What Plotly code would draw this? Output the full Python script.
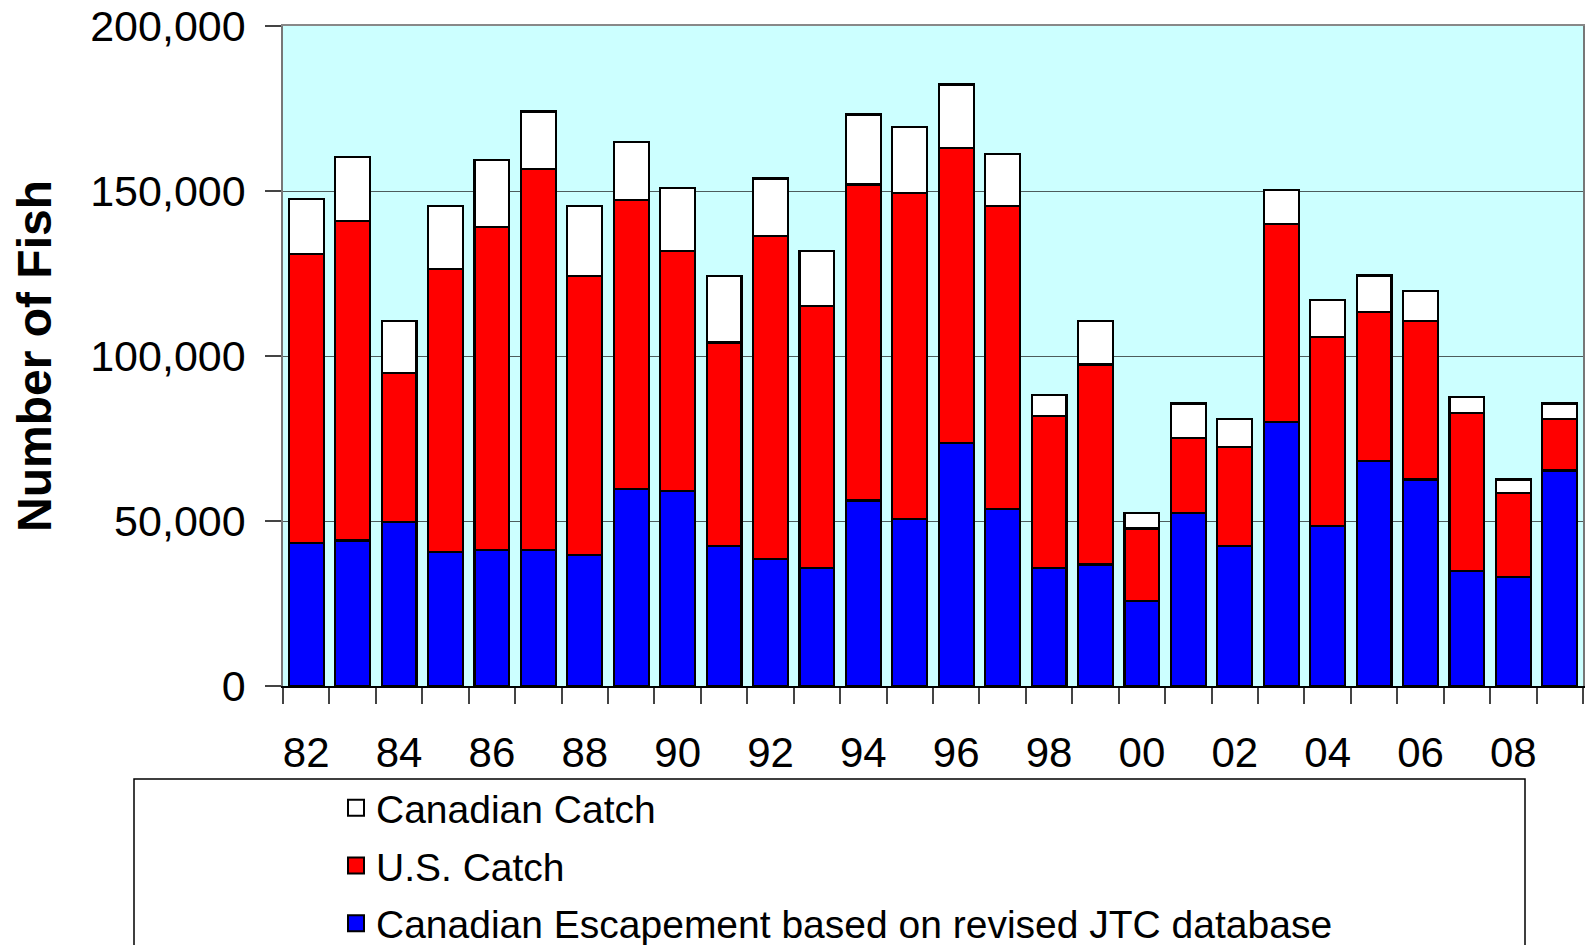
import plotly.graph_objects as go

years = list(range(1982, 2010))
tick_years = list(range(1982, 2010, 2))
tick_labels = ["82", "84", "86", "88", "90", "92", "94", "96", "98", "00", "02", "04", "06", "08"]

escapement = [43300, 44100, 49700, 40500, 41300, 41300, 39600, 59800, 59000, 42400,
              38600, 35800, 56200, 50700, 73700, 53600, 35800, 36800, 25700, 52500,
              42400, 80000, 48600, 68100, 62600, 34900, 33000, 65300]
us_catch = [87500, 96900, 45200, 85800, 97900, 115300, 84700, 87500, 72800, 61700,
            97700, 79400, 95800, 98600, 89400, 91900, 46100, 60600, 22000, 22700,
            30100, 60100, 57200, 45200, 47900, 47800, 25500, 15500]
canadian_catch = [16700, 19400, 15700, 19200, 20100, 17500, 21200, 17500, 19200, 20200,
                  17500, 16600, 21200, 20200, 19200, 15700, 6400, 13200, 4800, 10400,
                  8500, 10100, 11100, 11100, 9300, 4900, 4100, 4800]

series = [
    ("Canadian Escapement based on revised JTC database", escapement, "#0000FF"),
    ("U.S. Catch", us_catch, "#FF0000"),
    ("Canadian Catch", canadian_catch, "#FFFFFF"),
]

FONT = "Arial, Liberation Sans, sans-serif"

# plot area in pixels
L, R, T, B = 283, 1583, 26, 686
W, H = R - L, B - T

fig = go.Figure()
for name, vals, color in series:
    fig.add_trace(go.Bar(
        x=years, y=vals, name=name, width=0.75,
        marker=dict(color=color, line=dict(color="black", width=2.2)),
        showlegend=False,
    ))
# legend proxies (larger square symbols), listed top to bottom
for i, (name, vals, color) in enumerate(reversed(series)):
    fig.add_trace(go.Scatter(
        x=[None], y=[None], name=name, mode="markers", legendgroup="g%d" % i,
        marker=dict(symbol="square", size=16, color=color, line=dict(color="black", width=2)),
        showlegend=True,
    ))

fig.add_shape(type="rect", xref="paper", yref="paper",
              x0=(134 - L) / W, x1=(1525 - L) / W,
              y0=(B - 779) / H, y1=(B - 960) / H,
              line=dict(color="black", width=1.5), fillcolor="white", layer="below")

fig.update_layout(
    width=1586, height=945,
    margin=dict(l=L, r=1586 - R, t=T, b=945 - B, autoexpand=False),
    barmode="stack",
    plot_bgcolor="#CCFFFF",
    paper_bgcolor="white",
    font=dict(family=FONT, size=42, color="black"),
    showlegend=True,
    legend=dict(
        traceorder="grouped",
        tracegroupgap=4,
        x=(336 - L) / W, xanchor="left",
        y=(B - 776) / H, yanchor="top",
        font=dict(family=FONT, size=39, color="black"),
        bgcolor="rgba(0,0,0,0)", borderwidth=0,
        itemsizing="trace",
    ),
    xaxis=dict(
        range=[1981.5, 2009.5], automargin=False,
        tickmode="array", tickvals=tick_years, ticktext=tick_labels,
        ticks="", ticklabelstandoff=29,
        showgrid=False, zeroline=False,
        showline=True, linecolor="black", linewidth=2, mirror=False,
        minor=dict(tickmode="linear", tick0=1981.5, dtick=1, ticks="outside",
                   ticklen=16, tickwidth=1.5, tickcolor="#444", showgrid=False),
        tickfont=dict(size=42),
    ),
    xaxis2=dict(overlaying="x", side="top", range=[1981.5, 2009.5], showticklabels=False,
                automargin=False,
                ticks="", showgrid=False, showline=True, linecolor="#888", linewidth=2.3),
    yaxis=dict(
        range=[0, 200000], automargin=False,
        tickmode="array", tickvals=[0, 50000, 100000, 150000, 200000],
        ticktext=["0", "50,000", "100,000", "150,000", "200,000"],
        ticks="outside", ticklen=16, tickwidth=1.5, tickcolor="#444",
        ticklabelstandoff=11,
        showgrid=True, gridcolor="#4d5c5c", gridwidth=1.2,
        zeroline=False, showline=True, linecolor="#777", linewidth=1.5, mirror=True,
        title=dict(text="<b>Number of Fish</b>", font=dict(size=48), standoff=23),
        tickfont=dict(size=43),
    ),
)

# dummy trace to activate top border axis
fig.add_trace(go.Scatter(x=[None], y=[None], xaxis="x2", showlegend=False, hoverinfo="skip"))

fig.write_html("out.html", config={"displayModeBar": False},
               post_script="document.body.style.margin='0';")
